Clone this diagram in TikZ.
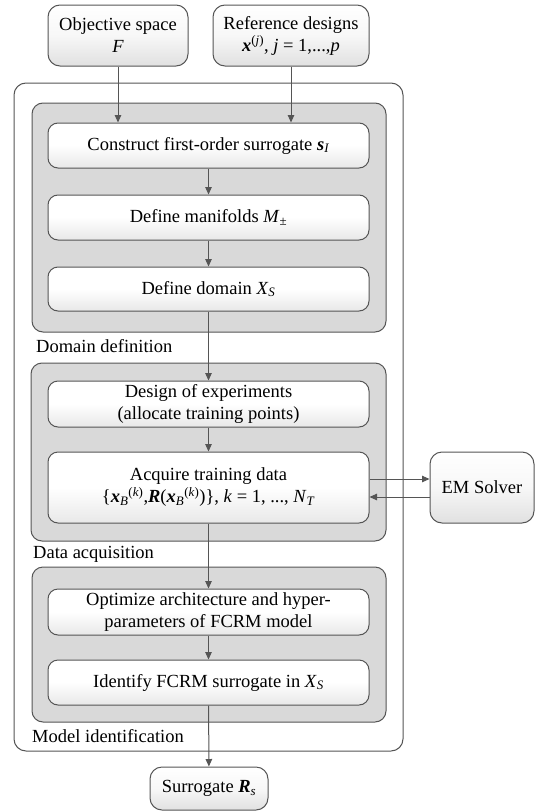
\documentclass[tikz,border=0pt]{standalone}
\usepackage{fontspec}
\setmainfont{Liberation Serif}
\usetikzlibrary{arrows.meta}
\newcommand{\bfit}[1]{\textbf{\textit{#1}}}
\newcommand{\subs}[1]{\textsubscript{#1}}
\newcommand{\sups}[1]{\textsuperscript{#1}}
\definecolor{lineC}{HTML}{555555}
\definecolor{greyC}{HTML}{D9D9D9}
\tikzset{
  txt/.style={font=\rmfamily\fontsize{18.5}{22}\selectfont, align=center, inner sep=0pt},
  stepbox/.style={txt, draw=lineC, line width=1pt, rounded corners=10pt,
    top color=white, bottom color=black!9, middle color=white,
    minimum width=321pt},
  iobox/.style={txt, draw=lineC, line width=1pt, rounded corners=12pt,
    top color=white, bottom color=black!12, middle color=white!97!black},
  groupbox/.style={draw=lineC, line width=1pt, rounded corners=11pt, fill=greyC, inner sep=0pt},
  outerbox/.style={draw=lineC, line width=1pt, rounded corners=12pt, fill=white, inner sep=0pt},
  grouplabel/.style={txt, anchor=base west},
  conn/.style={draw=lineC, line width=1pt, -{Triangle[length=7.5pt,width=6.5pt]}}
}
\begin{document}
\begin{tikzpicture}[x=1pt,y=-1pt]
\useasboundingbox (0,0) rectangle (535,811);
% input boxes
\node[iobox, minimum width=140pt, minimum height=61pt] (obj) at (118,35.5) {Objective space\\\textit{F}};
\node[iobox, minimum width=156pt, minimum height=61pt] (ref) at (291,35.5) {Reference designs\\\bfit{x}\sups{(\textit{j})}, \textit{j} = 1,...,\textit{p}};
% outer frame
\node[outerbox, minimum width=389pt, minimum height=668pt] (outer) at (208.5,417) {};
% group 1
\node[groupbox, minimum width=354pt, minimum height=229pt] (g1) at (209,217.5) {};
\node[stepbox, minimum height=45pt] (construct) at (208.5,145.5) {Construct first-order surrogate \bfit{s}\subs{\textit{I}}};
\node[stepbox, minimum height=45pt] (manif) at (208.5,217.5) {Define manifolds \textit{M}\subs{±}};
\node[stepbox, minimum height=44pt] (domain) at (208.5,289) {Define domain \textit{X}\subs{\textit{S}}};
\node[grouplabel] (lab1) at (36,352) {Domain definition};
% group 2
\node[groupbox, minimum width=355pt, minimum height=178pt] (g2) at (208.5,452) {};
\node[stepbox, minimum height=46pt] (design) at (208.5,404) {Design of experiments\\(allocate training points)};
\node[stepbox, minimum height=71pt] (acquire) at (208.5,487.5) {Acquire training data\\\{\bfit{x}\subs{\textit{B}}\sups{(\textit{k})},\bfit{R}(\bfit{x}\subs{\textit{B}}\sups{(\textit{k})})\}, \textit{k} = 1, ..., \textit{N}\subs{\textit{T}}};
\node[grouplabel] (lab2) at (33,558) {Data acquisition};
% EM solver
\node[iobox, minimum width=104pt, minimum height=71pt] (em) at (482,487.5) {EM Solver};
% group 3
\node[groupbox, minimum width=354pt, minimum height=155pt] (g3) at (209,644.5) {};
\node[stepbox, minimum height=46pt] (optim) at (208.5,612) {Optimize architecture and hyper-\\parameters of FCRM model};
\node[stepbox, minimum height=45pt] (ident) at (208.5,682.5) {Identify FCRM surrogate in \textit{X}\subs{\textit{S}}};
\node[grouplabel] (lab3) at (32,742) {Model identification};
% output
\node[iobox, minimum width=118pt, minimum height=43pt] (surr) at (209,788.5) {Surrogate \bfit{R}\subs{\textit{s}}};
% connectors
\draw[conn] (obj.south) -- (obj.south |- construct.north);
\draw[conn] (ref.south) -- (ref.south |- construct.north);
\draw[conn] (construct) -- (manif);
\draw[conn] (manif) -- (domain);
\draw[conn] (domain) -- (design);
\draw[conn] (design) -- (acquire);
\draw[conn] ([yshift=8.5pt]acquire.east) -- ([yshift=8.5pt]em.west);
\draw[conn] ([yshift=-9.5pt]em.west) -- ([yshift=-9.5pt]acquire.east);
\draw[conn] (acquire) -- (optim);
\draw[conn] (optim) -- (ident);
\draw[conn] (ident) -- (surr);
\end{tikzpicture}
\end{document}
